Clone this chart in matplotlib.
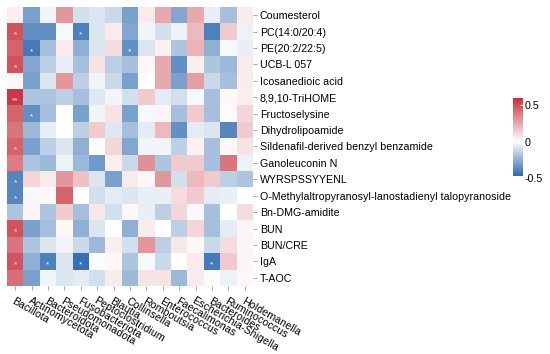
import matplotlib
matplotlib.use("Agg")
import matplotlib.pyplot as plt
import numpy as np
from matplotlib.colors import LinearSegmentedColormap, TwoSlopeNorm

metabolites = [
    "Coumesterol", "PC(14:0/20:4)", "PE(20:2/22:5)", "UCB-L 057",
    "Icosanedioic acid", "8,9,10-TriHOME", "Fructoselysine",
    "Dihydrolipoamide", "Sildenafil-derived benzyl benzamide",
    "Ganoleuconin N", "WYRSPSSYYENL",
    "O-Methylaltropyranosyl-lanostadienyl talopyranoside",
    "Bn-DMG-amidite", "BUN", "BUN/CRE", "IgA", "T-AOC",
]
taxa = [
    "Bacillota", "Actinomycetota", "Bacteroidota", "Pseudomonadota",
    "Fusobacteriota", "Peptoclostridium", "Blautia", "Collinsella",
    "Romboutsia", "Enterococcus", "Faecalimonas", "Escherichia-Shigella",
    "Bacteroides", "Ruminococcus", "Holdemanella",
]

# correlation coefficients, one row per metabolite / index
corr = [
    [0.05, -0.30, -0.03, 0.30, -0.10, -0.08, -0.12, -0.30, 0.06, 0.25, -0.28, 0.25, -0.05, -0.20, 0.06],
    [0.50, -0.35, -0.35, -0.02, -0.40, -0.08, 0.06, -0.28, -0.03, -0.10, -0.04, 0.20, -0.40, 0.15, -0.04],
    [0.45, -0.42, -0.20, 0.06, -0.25, -0.08, 0.10, -0.35, -0.08, 0.04, -0.18, 0.22, -0.25, -0.02, -0.05],
    [0.50, -0.28, -0.15, -0.05, -0.20, 0.08, -0.15, -0.20, 0.02, 0.25, -0.35, 0.05, -0.18, -0.22, 0.06],
    [0.02, -0.30, -0.08, 0.30, -0.15, -0.03, -0.12, -0.30, 0.00, 0.25, -0.30, 0.28, -0.12, -0.20, 0.06],
    [0.58, -0.18, -0.18, -0.15, -0.20, -0.07, -0.03, -0.10, 0.15, -0.06, -0.10, -0.02, -0.20, 0.02, 0.05],
    [0.45, -0.35, -0.20, 0.00, -0.30, -0.03, 0.08, -0.30, -0.02, 0.03, -0.20, 0.15, -0.20, 0.01, 0.12],
    [0.40, -0.22, -0.05, 0.00, -0.15, 0.15, -0.07, -0.20, -0.06, 0.20, -0.35, -0.06, -0.08, -0.38, 0.15],
    [0.45, -0.30, -0.15, -0.08, -0.25, -0.01, 0.12, -0.28, -0.03, -0.03, -0.15, 0.04, -0.20, 0.02, 0.08],
    [0.38, -0.18, -0.22, -0.04, -0.22, -0.32, 0.05, -0.12, 0.32, -0.18, 0.15, 0.15, -0.20, 0.40, -0.04],
    [-0.38, 0.12, 0.06, 0.30, 0.18, -0.08, -0.30, 0.06, 0.02, 0.30, -0.10, 0.20, 0.15, -0.15, -0.18],
    [-0.38, -0.02, 0.02, 0.45, 0.00, -0.10, -0.06, -0.08, -0.05, -0.05, 0.10, 0.15, -0.06, -0.05, 0.00],
    [-0.18, 0.03, -0.18, 0.15, -0.20, 0.07, -0.10, 0.02, -0.05, -0.15, 0.12, -0.02, -0.20, 0.00, 0.10],
    [0.50, -0.30, -0.20, 0.02, -0.25, -0.08, 0.00, -0.25, 0.06, 0.00, -0.15, 0.12, -0.20, -0.06, 0.03],
    [0.40, -0.18, -0.08, -0.03, -0.12, -0.22, 0.05, -0.10, 0.30, -0.15, 0.07, 0.02, -0.12, 0.10, 0.03],
    [0.50, -0.25, -0.40, -0.08, -0.45, -0.01, 0.02, -0.18, -0.02, -0.12, 0.00, 0.06, -0.42, 0.15, 0.03],
    [0.42, -0.30, -0.03, -0.08, -0.06, -0.10, 0.06, -0.22, 0.08, 0.08, -0.22, 0.06, 0.01, -0.04, 0.02],
]

# significance marks: (row, column, label)
marks = [
    (1, 0, "*"), (1, 4, "*"),
    (2, 1, "*"), (2, 7, "*"),
    (3, 0, "*"),
    (5, 0, "**"),
    (6, 1, "*"),
    (8, 0, "*"),
    (10, 0, "*"),
    (11, 0, "*"),
    (13, 0, "*"),
    (15, 0, "*"), (15, 2, "*"), (15, 4, "*"), (15, 12, "*"),
]

VMIN, VMAX = -0.47, 0.6
cbar_ticks = [0.5, 0, -0.5]
cbar_labels = ["0.5", "0", "-0.5"]

plt.rcParams.update({
    "font.family": ["Liberation Sans", "DejaVu Sans"],
    "font.size": 7.7,
})

cmap = LinearSegmentedColormap.from_list(
    "bwr_soft", ["#2f6bb0", "#ffffff", "#c8323e"]
)
norm = TwoSlopeNorm(vcenter=0, vmin=VMIN, vmax=VMAX)

fig = plt.figure(figsize=(5.5, 3.54), dpi=100)
ax = fig.add_axes([7 / 550, 1 - 286 / 354, 246 / 550, 279 / 354])
cax = fig.add_axes([513 / 550, 1 - 178 / 354, 10 / 550, 80 / 354])

data = np.array(corr)
ax.imshow(data, cmap=cmap, norm=norm, aspect="auto", interpolation="nearest")

for r, c, lab in marks:
    ax.text(c, r + 0.22, lab, ha="center", va="center", color="white",
            fontsize=6)

ax.set_xticks(np.arange(len(taxa)))
ax.set_xticklabels(taxa, rotation=-30, ha="left", rotation_mode="anchor")
ax.set_yticks(np.arange(len(metabolites)))
ax.set_yticklabels(metabolites)
ax.yaxis.tick_right()
ax.tick_params(length=3, color="#999999", width=0.6, pad=2)
ax.tick_params(axis="x", pad=4)
for s in ax.spines.values():
    s.set_visible(False)

# colour bar drawn as a gradient strip
grad = np.linspace(VMAX, VMIN, 256)[:, None]
cax.imshow(grad, cmap=cmap, norm=norm, aspect="auto",
           extent=[0, 1, VMIN, VMAX], interpolation="bilinear")
cax.set_xlim(0, 1)
cax.set_ylim(VMIN, VMAX)
cax.set_xticks([])
cax.yaxis.tick_right()
cax.set_yticks(cbar_ticks)
cax.set_yticklabels(cbar_labels)
cax.tick_params(axis="y", length=2.5, color="white", width=0.6, pad=1,
                direction="in")
for s in cax.spines.values():
    s.set_visible(False)

fig.savefig("out.png", dpi=100)
